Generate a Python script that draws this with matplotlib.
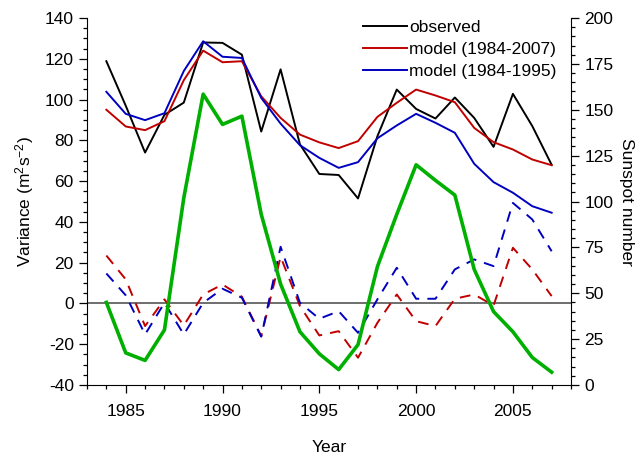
import matplotlib
matplotlib.use("Agg")
import matplotlib.pyplot as plt
from matplotlib.ticker import MultipleLocator

plt.rcParams['font.family'] = ['Liberation Sans', 'DejaVu Sans']
plt.rcParams['mathtext.fontset'] = 'custom'
plt.rcParams['mathtext.rm'] = 'Liberation Sans'
plt.rcParams['mathtext.default'] = 'regular'
plt.rcParams['axes.unicode_minus'] = False

years = list(range(1984, 2008))

observed = [118.8, 97.0, 74.0, 92.5, 98.5, 128.0, 127.8, 122.0, 84.3, 114.8,
            78.0, 63.5, 63.0, 51.5, 82.0, 104.9, 95.4, 90.7, 101.0, 91.0,
            76.8, 102.8, 87.0, 68.0]
model_full = [95.0, 86.8, 85.0, 89.4, 109.5, 124.0, 118.3, 118.8, 101.6, 91.0,
              82.8, 79.0, 76.2, 79.6, 91.5, 98.4, 104.9, 102.0, 98.7, 86.1,
              79.1, 75.5, 70.6, 67.8]
model_early = [103.8, 93.0, 89.9, 93.3, 114.0, 128.6, 121.0, 120.4, 100.8, 88.2,
               77.6, 71.4, 66.5, 69.3, 81.0, 87.3, 93.0, 88.6, 83.7, 68.5,
               59.5, 54.3, 47.7, 44.5]
resid_full = [23.5, 11.8, -11.1, 2.0, -10.8, 4.4, 9.3, 3.3, -16.0, 22.9,
              -1.3, -15.7, -13.6, -26.6, -9.5, 4.4, -8.7, -11.1, 2.3, 4.4,
              -1.0, 27.3, 16.7, 3.6]
resid_early = [14.7, 4.0, -15.2, 0.3, -15.2, 0.3, 7.2, 2.8, -16.3, 27.8,
               0.3, -7.5, -3.8, -14.4, 2.0, 17.5, 2.3, 2.3, 16.7, 21.6,
               18.3, 49.3, 41.2, 25.6]
sunspots = [45, 17.5, 13.4, 30, 102, 158.5, 142, 146.5, 93, 55,
            29, 17, 8.4, 22, 64.5, 93, 120, 111.5, 103.5, 63,
            40, 29, 15, 7]

RED = '#c00000'
BLUE = '#0000c0'
GREEN = '#00b000'

fig = plt.figure(figsize=(6.4, 4.58), dpi=100)
ax = fig.add_axes([87 / 640, 1 - 385 / 458, (571 - 87) / 640, (385 - 18) / 458])

ax.axhline(0, color='#555555', lw=1.2, zorder=1)
ax.plot(years, observed, color='black', lw=1.4, label='observed', zorder=3)
ax.plot(years, model_full, color=RED, lw=1.4, label='model (1984-2007)', zorder=3)
ax.plot(years, model_early, color=BLUE, lw=1.4, label='model (1984-1995)', zorder=3)
ax.plot(years, resid_full, color=RED, lw=1.4, dashes=(5.5, 4.2), zorder=3)
ax.plot(years, resid_early, color=BLUE, lw=1.4, dashes=(5.5, 4.2), zorder=3)

ax.set_xlim(1983, 2008)
ax.set_ylim(-40, 140)
ax.xaxis.set_major_locator(MultipleLocator(5))
ax.xaxis.set_minor_locator(MultipleLocator(1))
ax.yaxis.set_major_locator(MultipleLocator(20))
ax.yaxis.set_minor_locator(MultipleLocator(5))
ax.tick_params(which='both', direction='out', labelsize=12.5, width=0.9)
ax.tick_params(which='major', length=6)
ax.tick_params(which='minor', length=3)
ax.tick_params(axis='x', which='major', pad=8)
for s in ('top', 'right'):
    ax.spines[s].set_visible(False)
ax.set_xlabel('Year', fontsize=12.5, labelpad=15)
ax.set_ylabel('Variance (m$^{2}$s$^{-2}$)', fontsize=12.5, labelpad=6)

ax2 = ax.twinx()
ax2.plot(years, sunspots, color=GREEN, lw=2.6, zorder=2)
ax2.set_ylim(0, 200)
ax2.yaxis.set_major_locator(MultipleLocator(25))
ax2.yaxis.set_minor_locator(MultipleLocator(5))
ax2.tick_params(which='both', direction='out', labelsize=12.5, width=0.9)
ax2.tick_params(which='major', length=6)
ax2.tick_params(which='minor', length=3)
for s in ('top', 'left', 'bottom'):
    ax2.spines[s].set_visible(False)
ax2.set_ylabel('Sunspot number', fontsize=12.5, rotation=270, labelpad=15)

leg = ax.legend(loc='upper right', bbox_to_anchor=(0.985, 1.015), frameon=False,
                fontsize=12.5, handlelength=2.55, handletextpad=0.15,
                labelspacing=0.42, borderaxespad=0)
leg.set_zorder(10)

fig.savefig('out.png', dpi=100)
